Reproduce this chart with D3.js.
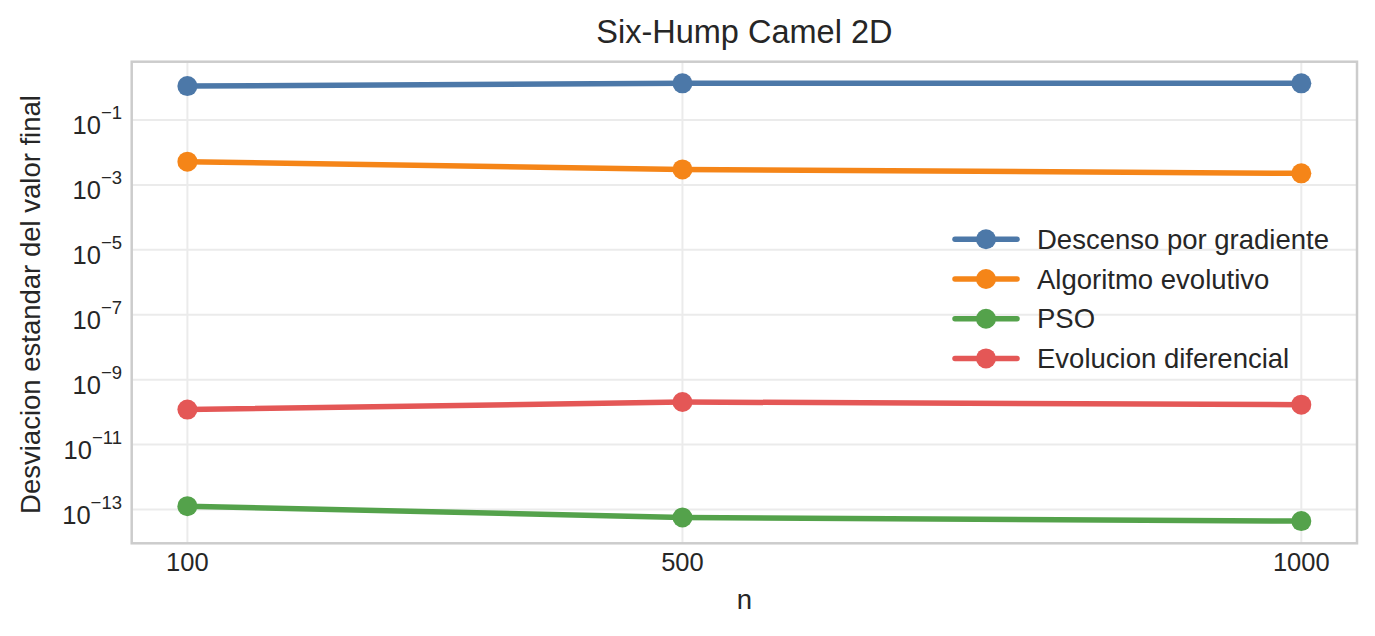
<!DOCTYPE html>
<html>
<head>
<meta charset="utf-8">
<script src="https://cdn.jsdelivr.net/npm/d3@7"></script>
<style>
	body { margin: 0; background: #fff; }
	text { font-family: "Liberation Sans", Arial, sans-serif; fill: #262626; }
</style>
</head>
<body>
<script>
// datos
var ns = [100, 500, 1000];
var seriesNames = ["Descenso por gradiente", "Algoritmo evolutivo", "PSO", "Evolucion diferencial"];
var descenso = [1.11, 1.35, 1.35];
var evolutivo = [5.2e-3, 3.0e-3, 2.27e-3];
var pso = [1.27e-13, 5.7e-14, 4.4e-14];
var diferencial = [1.2e-10, 2.05e-10, 1.7e-10];
var yTickExps = [-1, -3, -5, -7, -9, -11, -13];
var colors = ["#4c78a8", "#f58518", "#54a24b", "#e45756"];

function main(){

	var w = 1375;
	var h = 636;
	var left = 131.7, right = 1357, top = 61.7, bottom = 543.3;

	var svg = d3.select("body")
				.append("svg")
				.attr("width", w)
				.attr("height", h);

	var xScale = d3.scaleLinear()
					.domain([55, 1045])
					.range([left, right]);

	var yScale = d3.scaleLog()
					.domain([Math.pow(10, 0.796), Math.pow(10, -14.04)])
					.range([top, bottom]);

	var allSeries = [descenso, evolutivo, pso, diferencial];

	// grid
	svg.selectAll(".xgrid")
		.data(ns)
		.enter()
		.append("line")
		.attr("class", "xgrid")
		.attr("x1", function(d){ return xScale(d); })
		.attr("x2", function(d){ return xScale(d); })
		.attr("y1", top)
		.attr("y2", bottom)
		.attr("stroke", "#ebebeb")
		.attr("stroke-width", 2);

	svg.selectAll(".ygrid")
		.data(yTickExps)
		.enter()
		.append("line")
		.attr("class", "ygrid")
		.attr("x1", left)
		.attr("x2", right)
		.attr("y1", function(d){ return yScale(Math.pow(10, d)); })
		.attr("y2", function(d){ return yScale(Math.pow(10, d)); })
		.attr("stroke", "#ebebeb")
		.attr("stroke-width", 2);

	// lineas y puntos
	var line = d3.line()
				.x(function(d, i){ return xScale(ns[i]); })
				.y(function(d){ return yScale(d); });

	allSeries.forEach(function(s, k){
		svg.append("path")
			.datum(s)
			.attr("d", line)
			.attr("fill", "none")
			.attr("stroke", colors[k])
			.attr("stroke-width", 5.5)
			.attr("stroke-linecap", "round");

		svg.selectAll(".dot" + k)
			.data(s)
			.enter()
			.append("circle")
			.attr("class", "dot" + k)
			.attr("cx", function(d, i){ return xScale(ns[i]); })
			.attr("cy", function(d){ return yScale(d); })
			.attr("r", 10)
			.attr("fill", colors[k]);
	});

	// borde
	svg.append("rect")
		.attr("x", left)
		.attr("y", top)
		.attr("width", right - left)
		.attr("height", bottom - top)
		.attr("fill", "none")
		.attr("stroke", "#cccccc")
		.attr("stroke-width", 2.5);

	// ticks x
	svg.selectAll(".xtick")
		.data(ns)
		.enter()
		.append("text")
		.attr("class", "xtick")
		.attr("x", function(d){ return xScale(d); })
		.attr("y", 571)
		.attr("text-anchor", "middle")
		.style("font-size", "25.5px")
		.text(function(d){ return d; });

	// ticks y (10^n)
	var yt = svg.selectAll(".ytick")
		.data(yTickExps)
		.enter()
		.append("text")
		.attr("class", "ytick")
		.attr("x", 122)
		.attr("y", function(d){ return yScale(Math.pow(10, d)) + 14; })
		.attr("text-anchor", "end")
		.style("font-size", "25.5px");
	yt.append("tspan").text("10");
	yt.append("tspan")
		.attr("dy", -15)
		.style("font-size", "18.5px")
		.text(function(d){ return "\u2212" + Math.abs(d); });

	// titulos
	svg.append("text")
		.attr("x", (left + right) / 2)
		.attr("y", 43)
		.attr("text-anchor", "middle")
		.style("font-size", "32.5px")
		.text("Six-Hump Camel 2D");

	svg.append("text")
		.attr("x", (left + right) / 2)
		.attr("y", 609)
		.attr("text-anchor", "middle")
		.style("font-size", "27.5px")
		.text("n");

	svg.append("text")
		.attr("transform", "translate(40," + ((top + bottom) / 2 + 2) + ") rotate(-90)")
		.attr("text-anchor", "middle")
		.style("font-size", "27.5px")
		.text("Desviacion estandar del valor final");

	// leyenda
	var legend = svg.selectAll(".legend")
		.data(seriesNames)
		.enter()
		.append("g")
		.attr("class", "legend")
		.attr("transform", function(d, i){ return "translate(955," + (239.3 + i * 39.7) + ")"; });

	legend.append("line")
		.attr("x1", 0)
		.attr("x2", 62)
		.attr("stroke", function(d, i){ return colors[i]; })
		.attr("stroke-width", 5.5)
		.attr("stroke-linecap", "round");

	legend.append("circle")
		.attr("cx", 31)
		.attr("r", 10)
		.attr("fill", function(d, i){ return colors[i]; });

	legend.append("text")
		.attr("x", 82)
		.attr("y", 9.5)
		.style("font-size", "27.5px")
		.text(function(d){ return d; });
}

main();
</script>
</body>
</html>
